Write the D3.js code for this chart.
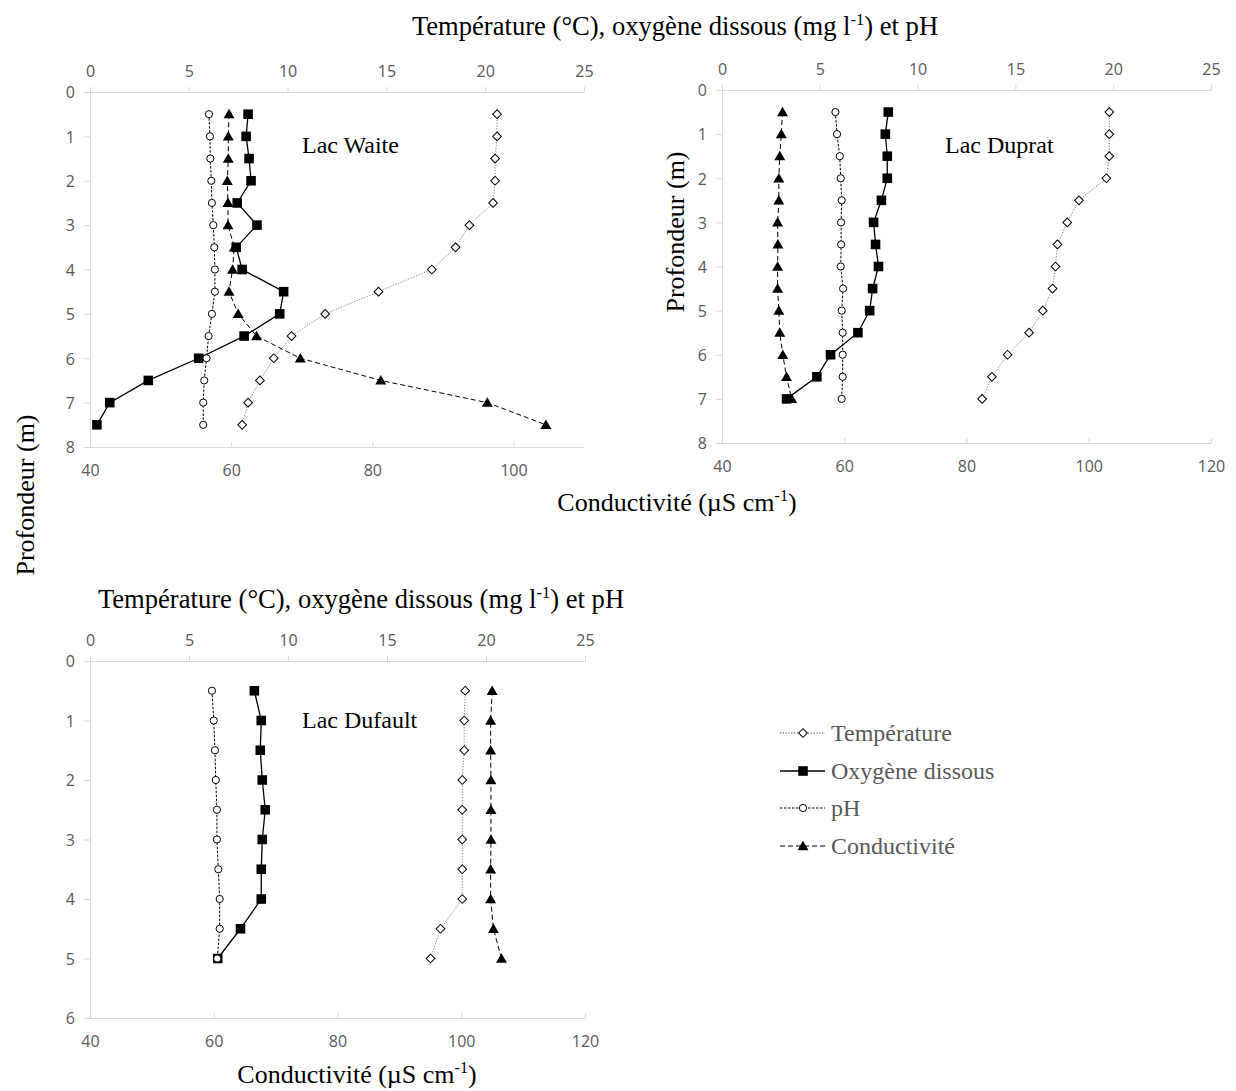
<!DOCTYPE html>
<html><head><meta charset="utf-8">
<script src="https://cdn.jsdelivr.net/npm/d3@7"></script>
<style>
html,body{margin:0;padding:0;background:#fff;}
svg{display:block;}
.tick text{font-family:"Open Sans",sans-serif;font-size:16px;fill:#595959;}
.serif{font-family:"Liberation Serif","Times New Roman",serif;}
</style></head>
<body>
<svg id="chart" width="1236" height="1091"></svg>
<script>
// ---------------- DATA ----------------
const seriesNames = ["Température", "Oxygène dissous", "pH", "Conductivité"];
const lakeNames = ["Lac Waite", "Lac Duprat", "Lac Dufault"];
const topTicks = [0, 5, 10, 15, 20, 25];

// Lac Waite
const waiteDepth = [0.5,1,1.5,2,2.5,3,3.5,4,4.5,5,5.5,6,6.5,7,7.5];
const waiteTemp  = [20.6,20.6,20.5,20.5,20.4,19.2,18.5,17.3,14.6,11.9,10.2,9.3,8.6,8.0,7.7];
const waiteOxy   = [8.0,7.9,8.05,8.15,7.45,8.45,7.4,7.7,9.8,9.6,7.8,5.5,2.95,1.0,0.35];
const waitePH    = [6.02,6.07,6.09,6.14,6.17,6.24,6.29,6.32,6.32,6.17,6.0,5.9,5.78,5.73,5.73];
const waiteCond  = [59.7,59.6,59.6,59.45,59.55,59.55,60.45,60.2,59.7,61.0,63.6,69.8,81.2,96.3,104.6];
const waiteDepthTicks = [0,1,2,3,4,5,6,7,8];
const waiteCondTicks = [40,60,80,100];

// Lac Duprat
const dupratDepth = [0.5,1,1.5,2,2.5,3,3.5,4,4.5,5,5.5,6,6.5,7];
const dupratTemp  = [19.8,19.8,19.8,19.65,18.25,17.65,17.15,17.05,16.9,16.4,15.7,14.6,13.8,13.3];
const dupratOxy   = [8.5,8.35,8.45,8.45,8.15,7.75,7.85,8.0,7.7,7.55,6.95,5.55,4.85,3.3];
const dupratPH    = [5.8,5.88,6.02,6.07,6.12,6.09,6.09,6.07,6.19,6.12,6.17,6.17,6.17,6.12];
const dupratCond  = [49.9,49.7,49.45,49.3,49.3,49.1,49.15,49.1,49.1,49.3,49.45,49.95,50.55,51.4];
const dupratDepthTicks = [0,1,2,3,4,5,6,7,8];
const dupratCondTicks = [40,60,80,100,120];

// Lac Dufault
const dufaultDepth = [0.5,1,1.5,2,2.5,3,3.5,4,4.5,5];
const dufaultTemp  = [18.95,18.9,18.9,18.8,18.8,18.8,18.8,18.8,17.7,17.2];
const dufaultOxy   = [8.3,8.65,8.6,8.7,8.85,8.7,8.65,8.65,7.6,6.45];
const dufaultPH    = [6.16,6.25,6.31,6.35,6.41,6.41,6.48,6.55,6.55,6.43];
const dufaultCond  = [105.0,104.75,104.75,104.8,104.8,104.8,104.75,104.75,105.2,106.5];
const dufaultDepthTicks = [0,1,2,3,4,5,6];
const dufaultCondTicks = [40,60,80,100,120];

// --------------- LAYOUT ---------------
const panels = [
  {name: lakeNames[0], x0: 90, x1: 584, y0: 92, y1: 447, depthMax: 8, condMin: 40, condMax: 110,
   depth: waiteDepth, temp: waiteTemp, oxy: waiteOxy, ph: waitePH, cond: waiteCond,
   depthTicks: waiteDepthTicks, condTicks: waiteCondTicks, labelX: 302, labelY: 153},
  {name: lakeNames[1], x0: 722, x1: 1211, y0: 90, y1: 443, depthMax: 8, condMin: 40, condMax: 120,
   depth: dupratDepth, temp: dupratTemp, oxy: dupratOxy, ph: dupratPH, cond: dupratCond,
   depthTicks: dupratDepthTicks, condTicks: dupratCondTicks, labelX: 945, labelY: 153},
  {name: lakeNames[2], x0: 90, x1: 585, y0: 661, y1: 1018, depthMax: 6, condMin: 40, condMax: 120,
   depth: dufaultDepth, temp: dufaultTemp, oxy: dufaultOxy, ph: dufaultPH, cond: dufaultCond,
   depthTicks: dufaultDepthTicks, condTicks: dufaultCondTicks, labelX: 302, labelY: 728}
];

const svg = d3.select("#chart");
const axisColor = "#d9d9d9";

const styles = {
  temp: {stroke: "#7f7f7f", width: 1, dash: "1.2,1.6"},
  oxy:  {stroke: "#000", width: 1.3, dash: null},
  ph:   {stroke: "#000", width: 1, dash: "2.5,1.5"},
  cond: {stroke: "#000", width: 1, dash: "5,3"}
};

function drawMarker(g, type, x, y) {
  if (type === "temp") {
    g.append("path").attr("d", d3.symbol(d3.symbolSquare, 38)())
      .attr("transform", `translate(${x},${y}) rotate(45)`)
      .attr("fill", "#fff").attr("stroke", "#000").attr("stroke-width", 1);
  } else if (type === "oxy") {
    g.append("path").attr("d", d3.symbol(d3.symbolSquare, 92)())
      .attr("transform", `translate(${x},${y})`).attr("fill", "#000");
  } else if (type === "ph") {
    g.append("circle").attr("cx", x).attr("cy", y).attr("r", 3.6)
      .attr("fill", "#fff").attr("stroke", "#000").attr("stroke-width", 1);
  } else {
    g.append("path").attr("d", d3.symbol(d3.symbolTriangle, 52)())
      .attr("transform", `translate(${x},${y + 1})`).attr("fill", "#000");
  }
}

function supText(sel, before, sup, after, size) {
  sel.append("tspan").text(before);
  sel.append("tspan").attr("font-size", size * 0.62).attr("dy", -size * 0.38).text(sup);
  sel.append("tspan").attr("dy", size * 0.38).text(after);
}

panels.forEach(p => {
  const g = svg.append("g");
  const xTop = d3.scaleLinear().domain([0, 25]).range([p.x0, p.x1]);
  const xBot = d3.scaleLinear().domain([p.condMin, p.condMax]).range([p.x0, p.x1]);
  const y = d3.scaleLinear().domain([0, p.depthMax]).range([p.y0, p.y1]);

  const ta = g.append("g").attr("transform", `translate(0,${p.y0})`)
    .call(d3.axisTop(xTop).tickValues(topTicks).tickFormat(d3.format("d"))
      .tickSize(5).tickSizeOuter(0).tickPadding(10));
  const ba = g.append("g").attr("transform", `translate(0,${p.y1})`)
    .call(d3.axisBottom(xBot).tickValues(p.condTicks).tickFormat(d3.format("d"))
      .tickSize(-5).tickSizeOuter(0).tickPadding(18));
  const la = g.append("g").attr("transform", `translate(${p.x0},0)`)
    .call(d3.axisLeft(y).tickValues(p.depthTicks).tickFormat(d3.format("d"))
      .tickSize(6).tickSizeOuter(0).tickPadding(9));
  [ta, ba, la].forEach(a => {
    a.select(".domain").attr("stroke", axisColor);
    a.selectAll(".tick line").attr("stroke", axisColor);
  });
  la.selectAll(".tick text").attr("dy", "0.36em");

  const defs = [
    {key: "temp", vals: p.temp, scale: xTop},
    {key: "oxy", vals: p.oxy, scale: xTop},
    {key: "ph", vals: p.ph, scale: xTop},
    {key: "cond", vals: p.cond, scale: xBot}
  ];
  defs.forEach(s => {
    const pts = p.depth.map((d, i) => [s.scale(s.vals[i]), y(d)]);
    const st = styles[s.key];
    g.append("path").attr("d", d3.line()(pts)).attr("fill", "none")
      .attr("stroke", st.stroke).attr("stroke-width", st.width)
      .attr("stroke-dasharray", st.dash);
    pts.forEach(pt => drawMarker(g, s.key, pt[0], pt[1]));
  });

  g.append("text").attr("class", "serif").attr("x", p.labelX).attr("y", p.labelY)
    .attr("font-size", 24).attr("fill", "#000").text(p.name);
});

// axis titles
const titleSize = 26.6;
const axisTitleSize = 26;
supText(svg.append("text").attr("class", "serif").attr("x", 675).attr("y", 35)
  .attr("text-anchor", "middle").attr("font-size", titleSize),
  "Température (°C), oxygène dissous (mg l", "-1", ") et pH", titleSize);
supText(svg.append("text").attr("class", "serif").attr("x", 361).attr("y", 608)
  .attr("text-anchor", "middle").attr("font-size", titleSize),
  "Température (°C), oxygène dissous (mg l", "-1", ") et pH", titleSize);
supText(svg.append("text").attr("class", "serif").attr("x", 677).attr("y", 511)
  .attr("text-anchor", "middle").attr("font-size", axisTitleSize),
  "Conductivité (µS cm", "-1", ")", axisTitleSize);
supText(svg.append("text").attr("class", "serif").attr("x", 357).attr("y", 1083)
  .attr("text-anchor", "middle").attr("font-size", axisTitleSize),
  "Conductivité (µS cm", "-1", ")", axisTitleSize);
svg.append("text").attr("class", "serif").attr("font-size", axisTitleSize)
  .attr("text-anchor", "middle").attr("transform", "translate(34,495) rotate(-90)")
  .text("Profondeur (m)");
svg.append("text").attr("class", "serif").attr("font-size", axisTitleSize)
  .attr("text-anchor", "middle").attr("transform", "translate(684,232) rotate(-90)")
  .text("Profondeur (m)");

// legend
const legendKeys = ["temp", "oxy", "ph", "cond"];
const legY = [733, 771, 808, 846];
legendKeys.forEach((k, i) => {
  const gy = legY[i];
  const st = styles[k];
  svg.append("line").attr("x1", 780).attr("x2", 825).attr("y1", gy).attr("y2", gy)
    .attr("stroke", k === "temp" ? "#404040" : st.stroke).attr("stroke-width", st.width)
    .attr("stroke-dasharray", st.dash);
  drawMarker(svg, k, 803, gy);
  svg.append("text").attr("class", "serif").attr("x", 831).attr("y", gy + 8)
    .attr("font-size", 24).attr("fill", "#595959").text(seriesNames[i]);
});
</script>
</body></html>
